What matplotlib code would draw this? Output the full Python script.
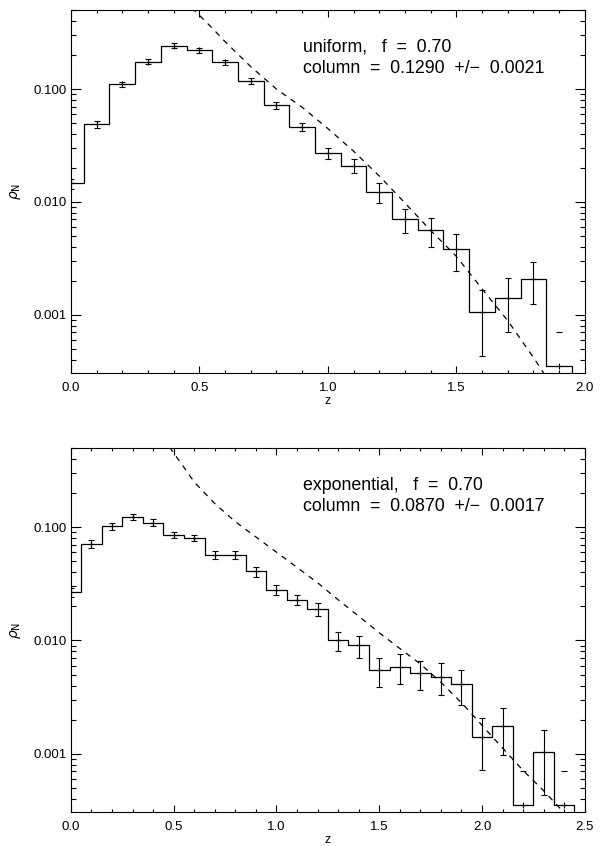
import numpy as np
import matplotlib
matplotlib.use('Agg')
import matplotlib.pyplot as plt
from matplotlib.ticker import MultipleLocator, LogLocator, FixedLocator, FixedFormatter, NullFormatter

plt.rcParams['font.family'] = ['Liberation Sans', 'DejaVu Sans']

#%%
# uniform case: histogram bins (centres), values and errors
z_uni = [0.0, 0.1, 0.2, 0.3, 0.4, 0.5, 0.6, 0.7, 0.8, 0.9, 1.0,
         1.1, 1.2, 1.3, 1.4, 1.5, 1.6, 1.7, 1.8, 1.9, 2.0]
rho_uni = [0.0146, 0.0487, 0.110, 0.175, 0.242, 0.221, 0.172, 0.119, 0.0717, 0.0464, 0.0270,
           0.0209, 0.0123, 0.00703, 0.00562, 0.00384, 0.00105, 0.00141, 0.00209, 0.000349, 0.0]
err_uni = [0.0015, 0.0039, 0.0065, 0.009, 0.0115, 0.0115, 0.0097, 0.0075, 0.0057, 0.0041, 0.0031,
           0.0029, 0.0025, 0.0017, 0.0016, 0.0014, 0.00062, 0.0007, 0.00085, 0.00036, 0.0]
# dashed model curve
zmod_uni = [0.47, 0.55, 0.60, 0.70, 0.80, 0.90, 1.00, 1.10, 1.20, 1.30,
            1.40, 1.50, 1.60, 1.70, 1.80, 1.86]
mod_uni = [0.525, 0.347, 0.263, 0.158, 0.100, 0.069, 0.0447, 0.0282, 0.0170, 0.0098,
           0.0056, 0.0033, 0.0017, 0.00089, 0.00042, 0.00026]
text_uni = ['uniform,   f  =  0.70', 'column  =  0.1290  +/\u2212  0.0021']

# exponential case
z_exp = [0.0, 0.1, 0.2, 0.3, 0.4, 0.5, 0.6, 0.7, 0.8, 0.9, 1.0, 1.1, 1.2,
         1.3, 1.4, 1.5, 1.6, 1.7, 1.8, 1.9, 2.0, 2.1, 2.2, 2.3, 2.4, 2.5]
rho_exp = [0.0266, 0.0713, 0.102, 0.1236, 0.110, 0.0861, 0.0805, 0.0570, 0.0573, 0.0408, 0.0281, 0.0229, 0.0190,
           0.0100, 0.00903, 0.00547, 0.00585, 0.00514, 0.0048, 0.00411, 0.00139, 0.00175, 0.000349, 0.00103, 0.000349, 0.0]
err_exp = [0.0026, 0.0057, 0.008, 0.0083, 0.0074, 0.0054, 0.0054, 0.0046, 0.0046, 0.0041, 0.0031, 0.0022, 0.0026,
           0.002, 0.002, 0.0016, 0.0017, 0.0015, 0.0015, 0.0014, 0.00068, 0.00077, 0.00036, 0.0006, 0.00036, 0.0]
zmod_exp = [0.48, 0.55, 0.60, 0.70, 0.80, 0.90, 1.00, 1.10, 1.20, 1.30, 1.40,
            1.50, 1.60, 1.70, 1.80, 1.90, 2.00, 2.10, 2.20, 2.30, 2.40]
mod_exp = [0.51, 0.339, 0.251, 0.162, 0.112, 0.0822, 0.0603, 0.0442, 0.0324, 0.0229, 0.0164,
           0.0117, 0.0085, 0.0062, 0.00427, 0.00282, 0.00178, 0.00112, 0.00071, 0.00047, 0.0003]
text_exp = ['exponential,   f  =  0.70', 'column  =  0.0870  +/\u2212  0.0017']

ytick_vals = [0.001, 0.01, 0.1]
ytick_labs = ['0.001', '0.010', '0.100']


#%%
def panel(ax, z, rho, err, zmod, mod, lines, zmax):
    z = np.array(z); rho = np.array(rho); err = np.array(err)
    ax.set_yscale('log', nonpositive='clip')
    ax.step(z, rho, where='mid', color='k', lw=0.9)
    ax.plot(zmod, mod, color='k', lw=0.9, dashes=(4.5, 4.5))

    # error bars; where the lower end hits zero only the top cap shows
    has = rho > 0
    ok = has & (rho - err > 0)
    low = has & ~ok
    ax.errorbar(z[ok], rho[ok], yerr=err[ok], fmt='+', color='k', ms=5, mew=0.8,
                elinewidth=0.8, capsize=2.5, capthick=0.8)
    ax.plot(z[low], rho[low], '+', color='k', ms=5, mew=0.8)
    ax.plot(z[low], rho[low] + err[low], '_', color='k', ms=5, mew=0.8)

    ax.set_xlim(0, zmax)
    ax.set_ylim(3.05e-4, 0.5)
    ax.xaxis.set_major_locator(MultipleLocator(0.5))
    ax.xaxis.set_minor_locator(MultipleLocator(0.1))
    ax.xaxis.set_major_formatter(matplotlib.ticker.FormatStrFormatter('%.1f'))
    ax.yaxis.set_major_locator(FixedLocator(ytick_vals))
    ax.yaxis.set_major_formatter(FixedFormatter(ytick_labs))
    ax.yaxis.set_minor_locator(LogLocator(base=10, subs=np.arange(2, 10)))
    ax.yaxis.set_minor_formatter(NullFormatter())
    ax.tick_params(which='both', direction='in', top=True, right=True, labelsize=9.5, width=0.8)
    ax.tick_params(axis='x', which='major', length=5.2, pad=6.5)
    ax.tick_params(axis='x', which='minor', length=2.5)
    ax.tick_params(axis='y', which='major', length=7.5, pad=3)
    ax.tick_params(axis='y', which='minor', length=3.8)
    for s in ax.spines.values():
        s.set_linewidth(0.8)

    ax.set_xlabel('z', fontsize=9, labelpad=0.5)
    ax.set_ylabel(r'$\rho_{\rm N}$', fontsize=10)
    ax.yaxis.set_label_coords(-0.093, 0.5)
    ax.text(0.451, 0.885, lines[0], transform=ax.transAxes, fontsize=12.8, va='baseline')
    ax.text(0.451, 0.827, lines[1], transform=ax.transAxes, fontsize=12.8, va='baseline')


fig = plt.figure(figsize=(6.01, 8.46), dpi=100)
ax1 = fig.add_axes([0.118, 0.559, 0.855, 0.429])
ax2 = fig.add_axes([0.118, 0.0402, 0.855, 0.43])

panel(ax1, z_uni, rho_uni, err_uni, zmod_uni, mod_uni, text_uni, 2.0)
panel(ax2, z_exp, rho_exp, err_exp, zmod_exp, mod_exp, text_exp, 2.5)

fig.savefig('out.png', dpi=100)
